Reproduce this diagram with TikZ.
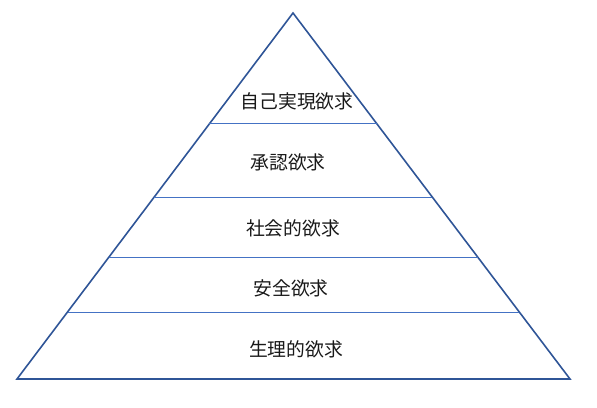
\documentclass[tikz,border=0pt]{standalone}
\usepackage{fontspec}
\newfontfamily\jpfont{Noto Sans CJK JP}
\usetikzlibrary{calc}
\definecolor{edgeblue}{HTML}{2F5597}
\definecolor{lineblue}{HTML}{4472C4}
\tikzset{
	level/.style={font=\jpfont\fontsize{18.8}{20}\selectfont, text=black!90, inner sep=0pt},
	divider/.style={lineblue, line width=0.8pt}
}
\begin{document}
\begin{tikzpicture}[x=1pt, y=-1pt]
		\useasboundingbox (0,0) rectangle (597,407);
		%outline
		\coordinate (apex) at (293,13);
		\coordinate (bl) at (17,379);
		\coordinate (br) at (570,379);
		\draw[edgeblue, line width=1.6pt, line join=miter] (apex) -- (bl) -- (br) -- cycle;
		
		%dividing lines
		\foreach \t/\n in {0.303/1, 0.503/2, 0.667/3, 0.817/4}{
			\coordinate (l\n) at ($(apex)!\t!(bl)$);
			\coordinate (r\n) at ($(apex)!\t!(br)$);
			\draw[divider] (l\n) -- (r\n);
		}
		
		\node[level] (self) at (297,101){自己実現欲求};
		\node[level] (esteem) at (288,162){承認欲求};
		\node[level] (social) at (293,228){社会的欲求};
		\node[level] (safety) at (291,288){安全欲求};
		\node[level] (body) at (296,349){生理的欲求};
		\end{tikzpicture}
\end{document}
